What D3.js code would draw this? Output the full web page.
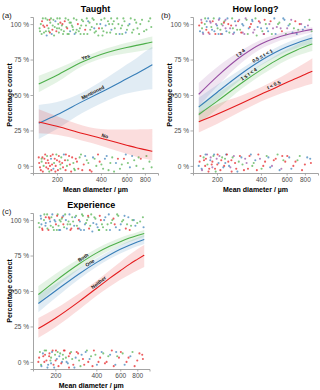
<!DOCTYPE html>
<html>
<head>
<meta charset="utf-8">
<script src="https://cdn.jsdelivr.net/npm/d3@7"></script>
<style>
  body { margin: 0; background: #fff; }
  text { font-family: "Liberation Sans", Arial, sans-serif; }
</style>
</head>
<body>
<div id="chart"></div>
<script>
// fitted curves are read at these diameters (µm)
const diam = [150, 200, 300, 400, 500, 600, 700, 800, 900];
const xTicks = [200, 400, 600, 800];
const yTicks = [0, 25, 50, 75, 100];

// (a) Taught
const taughtGroups = ["Yes", "Mentioned", "No"];
const taughtFit = [
  [57.8, 64, 73.5, 78.5, 81.5, 83.5, 85, 86.2, 87.4],
  [30, 36, 45.5, 52, 57, 61.5, 65, 68.3, 71.4],
  [31, 28, 22.8, 19.5, 16.8, 14.6, 12.8, 11.5, 10.3]
];
const taughtLo = [
  [52, 59, 70.5, 75.5, 78, 79.5, 80.5, 81.5, 82.5],
  [19, 26, 37.5, 44, 48.5, 51, 52.5, 53.5, 54],
  [23, 22, 17.8, 14.3, 11, 8.5, 6.5, 5, 3.8]
];
const taughtHi = [
  [63.5, 68.5, 76.5, 81.5, 84.5, 86.8, 88.5, 90, 91.2],
  [43, 45, 52, 59.5, 66, 71.5, 76, 80.5, 84],
  [40, 35, 28.5, 26, 25.6, 25.6, 25.7, 25.8, 26]
];
const taughtLabelAt = [320, 360, 420];

// (b) How long?
const howGroups = ["t ≥ 4", "0.5 ≤ t < 1", "1 ≤ t < 4", "t < 0.5"];
const howFit = [
  [50.5, 63, 78, 86, 90, 92.5, 94, 95.3, 96.3],
  [41.5, 51.8, 65.7, 74.3, 79.9, 83.8, 86.5, 88.6, 90.2],
  [36.3, 45.5, 59, 67.7, 73.9, 78.3, 81.6, 84, 86],
  [31.1, 36.4, 44.5, 50.5, 55, 58.9, 61.8, 64.5, 66.7]
];
const howLo = [
  [42, 56, 73.5, 82.5, 87, 89.8, 91.5, 93, 94],
  [35, 46.5, 62, 71, 76.5, 80.5, 83, 85, 86.5],
  [30, 40, 55, 64, 70, 74.5, 77.5, 79.5, 81],
  [23.5, 29.5, 39, 45.5, 49.5, 52.5, 54.5, 56.5, 58]
];
const howHi = [
  [58.5, 69.5, 82, 89, 92.5, 94.7, 96, 97.2, 98],
  [48, 57, 69, 77.5, 83, 86.8, 89.5, 91.5, 93.5],
  [43, 51, 63, 71.5, 77.5, 82, 85.5, 88, 90],
  [38, 43.5, 50, 55.5, 60.5, 65, 69, 72.5, 76]
];
const howLabelAt = [300, 420, 340, 500];

// (c) Experience
const expGroups = ["Both", "One", "Neither"];
const expFit = [
  [47.5, 57, 69.2, 76.7, 81.5, 84.8, 87.3, 89.1, 90.6],
  [41.2, 50, 62.2, 70, 75.4, 79.4, 82.3, 84.6, 86.4],
  [23.5, 30.8, 42.7, 51.8, 58.9, 64.3, 68.8, 72.3, 75.3]
];
const expLo = [
  [41.5, 52, 65.5, 73.5, 78.5, 82, 84.5, 86.5, 88],
  [35, 45, 58.5, 67, 72.5, 76.5, 79.3, 81.5, 83.2],
  [17, 24.5, 37, 46.5, 53, 58, 61.5, 64.5, 67]
];
const expHi = [
  [53.5, 62, 73, 79.8, 84.3, 87.5, 89.8, 91.5, 93],
  [47.5, 55, 66, 73, 78.2, 82.3, 85.3, 87.6, 89.5],
  [31, 37.5, 48.5, 57, 64.5, 70.5, 75.5, 79.5, 82.5]
];
const expLabelAt = [330, 370, 430];

// jittered observations: [diameter, jittered correct (0/1), group index]
const taughtPts = [
  [152,.97,0],[158,1.02,2],[163,.94,0],[167,1.04,0],[171,.99,2],[176,.95,0],[180,1.01,0],[184,.93,1],
  [189,1.03,0],[193,.98,0],[198,.95,2],[204,1.0,0],[209,1.04,0],[214,.96,0],[220,.93,0],[226,1.02,2],
  [232,.98,0],[239,1.03,0],[246,.95,1],[253,.99,0],[261,1.04,0],[269,.94,0],[278,1.0,2],[287,.97,0],
  [296,1.03,0],[306,.93,0],[316,.99,0],[327,1.02,1],[338,.96,0],[350,1.04,0],[362,.94,0],[375,1.0,0],
  [388,.97,2],[402,1.03,0],[416,.95,0],[431,.99,1],[447,1.02,0],[463,.94,0],[480,1.0,0],[498,.97,0],
  [517,1.04,0],[537,.93,1],[558,.99,0],[580,1.02,0],[603,.96,0],[628,1.0,1],[654,.94,0],[682,1.03,0],
  [712,.97,0],[744,1.0,0],[790,.95,0],[850,1.02,0],[885,.98,0],[155,1.0,0],[170,.92,1],[186,.96,2],
  [201,1.04,0],[218,1.0,2],[236,.93,0],[258,.96,0],[290,.93,0],[320,1.04,0],[360,.97,1],[410,.92,0],
  [470,1.04,0],[560,.93,0],[640,1.04,0],[161,.99,2],[178,1.03,2],[207,.97,0],[244,1.01,0],[273,.96,0],
  [153,.95,0],[157,.93,0],[160,1.04,0],[164,.98,2],[168,.95,0],[172,1.03,0],[175,.97,0],[179,.94,2],
  [182,1.04,0],[187,.99,0],[191,.92,0],[195,1.02,1],[200,.97,0],[206,.94,0],[211,1.01,2],[216,.99,0],
  [223,.95,0],[229,1.04,0],[235,.97,2],[241,.93,0],[249,1.01,0],[256,.98,0],[264,.93,1],[272,1.03,0],
  [282,.95,0],[293,.99,0],[302,1.02,0],[312,.96,2],[323,.93,0],[334,1.01,0],[346,.98,0],[357,1.03,0],
  [370,.95,0],[384,.92,0],[396,1.0,1],[407,.97,0],[423,1.04,0],[439,.94,0],[455,1.0,0],[472,.96,1],
  [490,1.02,0],[508,.93,0],[527,1.0,0],[548,.97,0],[570,1.04,0],[592,.94,1],[615,.99,0],[668,.96,0],
  [698,1.01,0],[730,.93,0],[765,1.03,0],[820,.96,0],[870,1.04,0],
  [151,.02,2],[155,-.03,2],[159,.06,2],[162,.0,0],[166,.08,2],[169,-.01,2],[173,.04,2],[177,-.04,0],
  [181,.07,2],[185,.01,2],[189,-.02,1],[193,.05,2],[198,.08,0],[203,-.03,2],[208,.03,2],[214,.06,0],
  [220,-.01,2],[227,.04,2],[234,.0,0],[242,.07,2],[250,-.04,2],[259,.02,0],[269,.05,2],[280,-.02,2],
  [292,.08,0],[305,.01,2],[320,.04,0],[336,-.03,2],[353,.06,1],[372,.0,0],[392,.03,2],[414,-.02,0],
  [438,.07,1],[464,.02,0],[492,-.04,0],[523,.05,2],[556,.01,0],[592,.08,1],[632,-.01,1],[676,.04,0],
  [725,.06,0],[780,-.02,0],[860,.03,0],[175,.02,2],[196,.0,2],[230,.08,2],[265,-.03,0],[157,.05,0],
  [183,-.03,2],[211,.01,0],
  [150,.06,2],[153,-.01,2],[157,.03,0],[160,-.04,2],[164,.05,2],[168,.02,2],[171,.07,0],[174,-.02,2],
  [179,.0,2],[182,.05,1],[187,.08,2],[191,.02,0],[195,-.04,2],[200,.04,2],[206,.07,2],[211,-.02,0],
  [217,.02,2],[223,.08,1],[229,-.03,2],[237,.04,0],[245,.01,2],[254,.06,2],[262,-.02,0],[274,.03,2],
  [286,.06,0],[298,-.03,2],[312,.07,1],[328,.02,0],[345,-.04,2],[362,.05,0],[382,.08,2],[403,.01,0],
  [426,.05,1],[451,-.03,0],[478,.06,0],[507,.02,1],[540,-.02,0],[575,.05,2],[612,.02,0],[654,.07,1],
  [700,.0,0],[750,.05,2],[820,.07,0],[890,-.01,0]
];
const howPts = [
  [151,.99,3],[156,1.03,0],[160,.94,1],[165,1.0,2],[169,.96,3],[174,1.04,1],[178,.93,0],[183,.98,2],
  [187,1.02,3],[192,.95,1],[197,1.0,0],[202,.97,2],[208,1.04,1],[213,.93,3],[219,.99,0],[225,1.02,2],
  [232,.95,1],[239,1.0,3],[246,.97,0],[254,1.04,2],[262,.94,1],[270,.99,0],[279,1.02,3],[288,.96,2],
  [298,1.0,1],[308,.93,0],[319,1.03,2],[330,.97,1],[342,1.0,3],[354,.94,0],[367,1.04,2],[380,.98,1],
  [394,1.01,0],[409,.95,2],[424,1.03,3],[440,.97,1],[457,1.0,0],[475,.93,2],[494,1.04,1],[514,.98,0],
  [535,1.01,2],[557,.95,3],[580,1.03,1],[605,.97,0],[631,1.0,2],[659,.94,1],[688,1.02,3],[720,.96,2],
  [755,1.0,0],[800,.98,1],[860,1.03,2],[158,.97,2],[181,1.01,0],[205,.93,1],[229,1.03,0],[257,.97,2],
  [300,.94,0],[350,1.02,1],[420,.93,3],[170,1.02,1],[215,1.0,2],
  [153,.95,1],[157,1.01,3],[161,.93,0],[166,1.04,2],[170,.98,1],[175,.94,3],[179,1.02,0],[185,.96,1],
  [190,1.04,2],[195,.93,3],[200,.99,1],[206,1.03,0],[211,.96,2],[217,.93,1],[223,1.01,3],[229,.97,0],
  [236,1.04,1],[243,.94,2],[250,.99,3],[258,.93,0],[266,1.02,1],[275,.96,2],[284,1.03,0],[293,.94,3],
  [303,.99,1],[314,1.04,0],[325,.93,2],[336,.98,3],[348,1.03,1],[361,.96,0],[374,.92,2],[387,1.02,3],
  [401,.97,1],[417,.93,0],[432,1.0,2],[448,.95,1],[466,1.02,3],[484,.97,0],[504,.93,1],[524,1.0,2],
  [546,.97,0],[569,1.04,1],[593,.93,2],[618,.99,1],[645,1.03,0],[673,.97,2],[704,.93,1],[737,1.0,3],
  [775,.96,1],[840,.99,0],[890,.95,2],
  [152,.03,3],[157,-.02,1],[162,.06,2],[166,.0,3],[171,.08,0],[175,-.04,3],[180,.04,1],[184,.01,3],
  [189,.07,2],[194,-.02,3],[199,.05,0],[205,.02,1],[211,-.03,3],[217,.06,2],[224,.0,3],[231,.08,1],
  [239,.03,3],[247,-.01,0],[256,.06,2],[266,.02,3],[276,-.04,1],[287,.07,3],[299,.01,2],[312,.05,0],
  [326,-.02,3],[341,.08,1],[357,.02,2],[375,-.03,3],[394,.05,0],[415,.0,3],[438,.07,2],[463,-.01,1],
  [490,.04,3],[520,.08,2],[552,-.02,0],[587,.03,3],[625,.06,1],[667,.0,3],[712,.04,2],[765,-.03,3],
  [830,.06,1],[880,.02,3],[168,.05,3],[186,-.01,0],[202,.08,3],[228,.02,1],[252,-.04,3],[560,.07,3],
  [150,.0,1],[154,.07,3],[158,-.03,0],[163,.04,3],[167,.08,1],[172,.01,2],[177,-.02,3],[181,.06,0],
  [186,.03,3],[191,.08,1],[196,-.04,2],[201,.01,3],[208,.07,0],[214,.04,3],[221,-.01,1],[227,.05,2],
  [234,.08,3],[242,.0,1],[251,.04,3],[261,.07,0],[271,-.02,3],[282,.03,2],[294,.06,1],[306,-.03,3],
  [319,.02,0],[334,.07,3],[349,.0,2],[366,.04,1],[384,.08,3],[404,-.02,2],[427,.03,3],[450,.06,1],
  [476,.0,0],[505,.05,3],[537,-.03,1],[570,.04,2],[606,.07,3],[646,-.02,1],[690,.03,3],[738,.07,2],
  [800,.01,3],[870,.05,1]
];
const expPts = [
  [151,.98,0],[156,1.03,1],[160,.94,2],[165,1.0,0],[169,.96,1],[174,1.04,0],[178,.93,2],[183,.99,1],
  [187,1.02,0],[192,.95,0],[197,1.0,1],[202,.97,2],[208,1.04,0],[213,.93,1],[219,.99,0],[225,1.02,2],
  [232,.95,0],[239,1.0,1],[246,.97,0],[254,1.04,1],[262,.94,2],[270,.99,0],[279,1.02,1],[288,.96,0],
  [298,1.0,2],[308,.93,1],[319,1.03,0],[330,.97,1],[342,1.0,0],[354,.94,2],[367,1.04,0],[380,.98,1],
  [394,1.01,0],[409,.95,1],[424,1.03,2],[440,.97,0],[457,1.0,1],[475,.93,0],[494,1.04,1],[514,.98,0],
  [535,1.01,2],[557,.95,1],[580,1.03,0],[605,.97,1],[631,1.0,0],[659,.94,2],[688,1.02,1],[720,.96,0],
  [755,1.0,1],[800,.98,0],[880,1.02,0],[158,.97,1],[181,1.01,2],[205,.93,0],[229,1.03,1],[257,.97,0],
  [300,.94,1],[350,1.02,0],[420,.93,0],[170,1.02,2],[215,1.0,0],
  [153,.95,0],[157,1.01,1],[161,.93,2],[166,1.04,0],[170,.98,1],[175,.94,0],[179,1.02,2],[185,.96,0],
  [190,1.04,1],[195,.93,0],[200,.99,1],[206,1.03,2],[211,.96,0],[217,.93,1],[223,1.01,0],[229,.97,2],
  [236,1.04,0],[243,.94,1],[250,.99,0],[258,.93,2],[266,1.02,0],[275,.96,1],[284,1.03,0],[293,.94,2],
  [303,.99,1],[314,1.04,0],[325,.93,1],[336,.98,0],[348,1.03,2],[361,.96,0],[374,.92,1],[387,1.02,0],
  [401,.97,1],[417,.93,0],[432,1.0,2],[448,.95,0],[466,1.02,1],[484,.97,0],[504,.93,1],[524,1.0,0],
  [546,.97,2],[569,1.04,0],[593,.93,1],[618,.99,0],[645,1.03,1],[673,.97,0],[704,.93,2],[737,1.0,0],
  [775,.96,1],[840,.99,0],[890,.95,1],
  [152,.03,2],[157,-.02,0],[162,.06,1],[166,.0,2],[171,.08,0],[175,-.04,1],[180,.04,2],[184,.01,0],
  [189,.07,1],[194,-.02,2],[199,.05,0],[205,.02,1],[211,-.03,2],[217,.06,0],[224,.0,1],[231,.08,2],
  [239,.03,0],[247,-.01,1],[256,.06,2],[266,.02,0],[276,-.04,1],[287,.07,2],[299,.01,0],[312,.05,1],
  [326,-.02,2],[341,.08,0],[357,.02,1],[375,-.03,2],[394,.05,0],[415,.0,2],[438,.07,1],[463,-.01,2],
  [490,.04,0],[520,.08,2],[552,-.02,1],[587,.03,2],[625,.06,0],[667,.0,2],[712,.04,1],[765,-.03,2],
  [830,.06,2],[880,.02,2],[168,.05,2],[186,-.01,1],[202,.08,2],[228,.02,0],[252,-.04,2],[560,.07,1],
  [150,.0,2],[154,.07,0],[158,-.03,1],[163,.04,2],[167,.08,0],[172,.01,2],[177,-.02,1],[181,.06,2],
  [186,.03,0],[191,.08,2],[196,-.04,1],[201,.01,2],[208,.07,0],[214,.04,1],[221,-.01,2],[227,.05,0],
  [234,.08,2],[242,.0,1],[251,.04,2],[261,.07,0],[271,-.02,2],[282,.03,1],[294,.06,2],[306,-.03,0],
  [319,.02,2],[334,.07,1],[349,.0,2],[366,.04,0],[384,.08,2],[404,-.02,1],[427,.03,2],[450,.06,0],
  [476,.0,2],[505,.05,1],[537,-.03,2],[570,.04,0],[606,.07,2],[646,-.02,1],[690,.03,2],[738,.07,0],
  [800,.01,2],[870,.05,2]
];

const red = "#E41A1C", blue = "#377EB8", green = "#4DAF4A", purple = "#984EA3";

const panels = [
  {tag: "(a)", title: "Taught", groups: taughtGroups, fit: taughtFit, lo: taughtLo, hi: taughtHi,
   labelAt: taughtLabelAt, pts: taughtPts, colors: [green, blue, red],
   left: 33, right: 158, top: 17, bottom: 173, tagX: 2},
  {tag: "(b)", title: "How long?", groups: howGroups, fit: howFit, lo: howLo, hi: howHi,
   labelAt: howLabelAt, pts: howPts, colors: [purple, blue, green, red],
   left: 193, right: 318, top: 17, bottom: 173, tagX: 161},
  {tag: "(c)", title: "Experience", groups: expGroups, fit: expFit, lo: expLo, hi: expHi,
   labelAt: expLabelAt, pts: expPts, colors: [green, blue, red],
   left: 33, right: 149.5, top: 213, bottom: 369, tagX: 2}
];

const svg = d3.select("#chart").append("svg")
  .attr("width", 320).attr("height", 390)
  .style("background", "#fff");

panels.forEach(p => {
  const x = d3.scaleLog().domain([137, 984]).range([p.left, p.right]);
  const y = d3.scaleLinear().domain([-5, 105]).range([p.bottom, p.top]);
  const g = svg.append("g");

  // jittered points
  g.selectAll("circle.pt").data(p.pts).enter().append("circle")
    .attr("class", "pt")
    .attr("cx", d => x(d[0]))
    .attr("cy", d => y(d[1] * 100))
    .attr("r", 1.05)
    .attr("fill", d => p.colors[d[2]])
    .attr("opacity", 0.7);

  // confidence bands
  p.groups.forEach((name, i) => {
    const rows = diam.map((dm, j) => ({d: dm, lo: p.lo[i][j], hi: p.hi[i][j]}));
    g.append("path")
      .attr("d", d3.area().curve(d3.curveMonotoneX)
        .x(r => x(r.d)).y0(r => y(r.lo)).y1(r => y(r.hi))(rows))
      .attr("fill", p.colors[i])
      .attr("opacity", 0.15);
  });

  // fitted lines
  p.groups.forEach((name, i) => {
    const rows = diam.map((dm, j) => ({d: dm, v: p.fit[i][j]}));
    g.append("path")
      .attr("d", d3.line().curve(d3.curveMonotoneX).x(r => x(r.d)).y(r => y(r.v))(rows))
      .attr("fill", "none")
      .attr("stroke", p.colors[i])
      .attr("stroke-width", 1.1);
  });

  // labels along lines
  p.groups.forEach((name, i) => {
    const at = p.labelAt[i];
    const k = Math.max(1, d3.bisectLeft(diam, at));
    const t = (Math.log(at) - Math.log(diam[k - 1])) / (Math.log(diam[k]) - Math.log(diam[k - 1]));
    const v = p.fit[i][k - 1] + t * (p.fit[i][k] - p.fit[i][k - 1]);
    const dx = x(diam[k]) - x(diam[k - 1]);
    const dy = y(p.fit[i][k]) - y(p.fit[i][k - 1]);
    const ang = Math.atan2(dy, dx) * 180 / Math.PI;
    g.append("text")
      .attr("transform", `translate(${x(at)},${y(v)}) rotate(${ang})`)
      .attr("dy", -1.6)
      .attr("text-anchor", "middle")
      .style("font-size", "5px")
      .style("font-weight", "bold")
      .attr("fill", "#111")
      .text(name);
  });

  // axes
  const xAxis = g.append("g").attr("transform", `translate(0,${p.bottom})`)
    .call(d3.axisBottom(x).tickValues(xTicks).tickFormat(d3.format("d")).tickSize(2.5).tickPadding(2));
  const yAxis = g.append("g").attr("transform", `translate(${p.left},0)`)
    .call(d3.axisLeft(y).tickValues(yTicks).tickFormat(d => d + " %").tickSize(2.5).tickPadding(1.5));
  [xAxis, yAxis].forEach(a => {
    a.select(".domain").attr("stroke", "#9a9a9a").attr("stroke-width", 0.9);
    a.selectAll(".tick line").attr("stroke", "#9a9a9a").attr("stroke-width", 0.8);
    a.selectAll(".tick text").attr("fill", "#4d4d4d").style("font-size", "6.5px")
      .style("font-family", "'Liberation Sans', Arial, sans-serif");
  });

  // titles
  g.append("text")
    .attr("x", (p.left + p.right) / 2).attr("y", p.bottom + 18.5)
    .attr("text-anchor", "middle")
    .style("font-size", "7px").style("font-weight", "bold")
    .text("Mean diameter / µm");
  g.append("text")
    .attr("transform", `translate(${p.left - 21.5},${(p.top + p.bottom) / 2}) rotate(-90)`)
    .attr("text-anchor", "middle")
    .style("font-size", "7px").style("font-weight", "bold")
    .text("Percentage correct");
  g.append("text")
    .attr("x", (p.left + p.right) / 2).attr("y", p.top - 5)
    .attr("text-anchor", "middle")
    .style("font-size", "9px").style("font-weight", "bold")
    .text(p.title);
  g.append("text")
    .attr("x", p.tagX).attr("y", p.top + 1)
    .style("font-size", "8px")
    .attr("fill", "#222")
    .text(p.tag);
});
</script>
</body>
</html>
